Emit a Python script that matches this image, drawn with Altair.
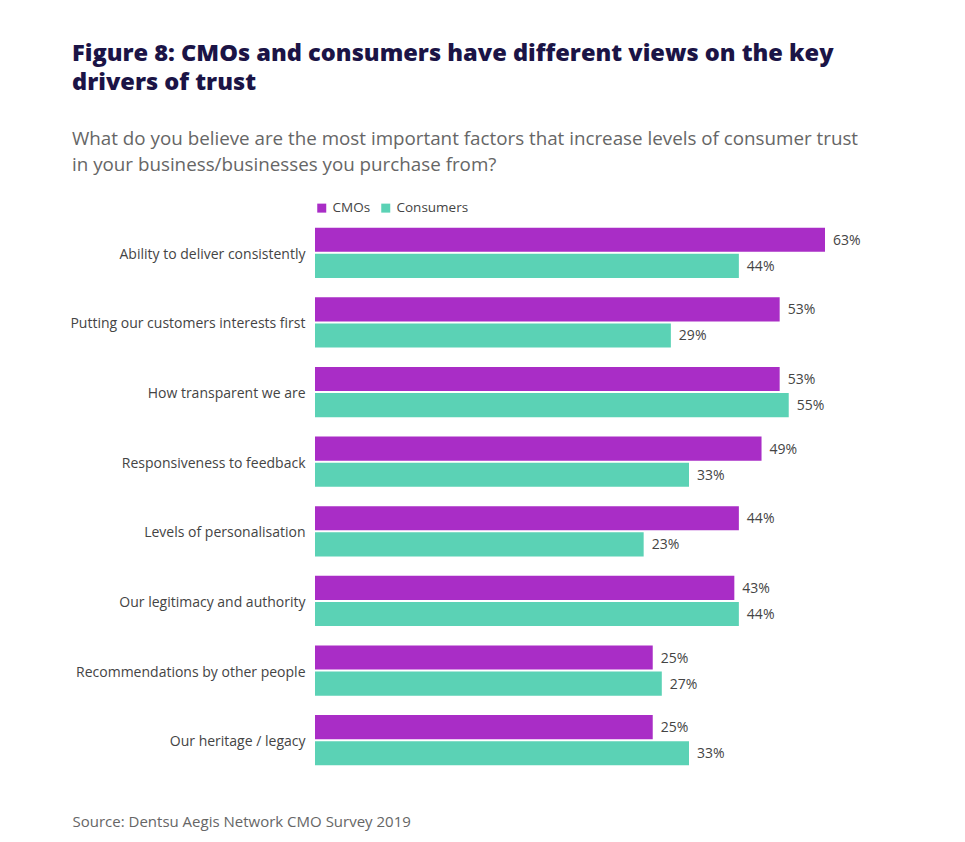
import altair as alt
import pandas as pd

categories = [
    "Ability to deliver consistently",
    "Putting our customers interests first",
    "How transparent we are",
    "Responsiveness to feedback",
    "Levels of personalisation",
    "Our legitimacy and authority",
    "Recommendations by other people",
    "Our heritage / legacy",
]
series = ["CMOs", "Consumers"]
cmos = [63, 53, 53, 49, 44, 43, 25, 25]
consumers = [44, 29, 55, 33, 23, 44, 27, 33]
colors = ["#A92DC6", "#5BD2B5"]

rows = []
for c, a, b in zip(categories, cmos, consumers):
    rows.append({"factor": c, "group": "CMOs", "value": a})
    rows.append({"factor": c, "group": "Consumers", "value": b})
df = pd.DataFrame(rows)
df["label"] = df["value"].astype(str) + "%"

BASE = -49.5
FONT = "Open Sans"

y_enc = alt.Y("factor:N", sort=categories, title=None,
              scale=alt.Scale(paddingInner=0.28, paddingOuter=0.14),
              axis=alt.Axis(domain=False, ticks=False, labelPadding=10, labelOffset=2,
                            labelFontSize=14, labelColor="#444444", labelFont=FONT,
                            labelLimit=300))
yoff = alt.YOffset("group:N", sort=series, scale=alt.Scale(paddingInner=0.08))
x_enc = alt.X("value:Q", scale=alt.Scale(domain=[BASE, 70.5], nice=False, zero=False),
              axis=alt.Axis(title="Source: Dentsu Aegis Network CMO Survey 2019",
                            labels=False, ticks=False, domain=False, grid=False,
                            titleX=-243, titleY=46, titleAlign="left", titleAnchor="start",
                            titleBaseline="middle", titleFontSize=15, titleFontWeight="normal",
                            titleColor="#666666", titleFont=FONT))

bars = alt.Chart(df).mark_bar().encode(
    y=y_enc,
    yOffset=yoff,
    x=x_enc,
    x2=alt.datum(BASE),
    color=alt.Color("group:N", sort=series,
                    scale=alt.Scale(domain=series, range=colors),
                    legend=alt.Legend(title=None, orient="none", legendX=0, legendY=-17,
                                      direction="horizontal", symbolType="square",
                                      symbolSize=81, symbolStrokeWidth=0,
                                      labelFontSize=13.5, labelColor="#444444",
                                      labelFont=FONT, columnPadding=8, symbolOffset=0,
                                      labelOffset=4)),
)

text = alt.Chart(df).mark_text(align="left", baseline="middle", dx=8, dy=1, fontSize=14,
                               color="#444444", font=FONT).encode(
    y=alt.Y("factor:N", sort=categories),
    yOffset=yoff,
    x=alt.X("value:Q"),
    text="label:N",
)

chart = (bars + text).properties(
    width=544,
    height=557,
    padding={"left": 307, "top": 210, "right": 80, "bottom": 64},
    autosize=alt.AutoSizeParams(type="none"),
    title=alt.Title(
        text=["Figure 8: CMOs and consumers have different views on the key",
              "drivers of trust"],
        subtitle=["What do you believe are the most important factors that increase levels of consumer trust",
                  "in your business/businesses you purchase from?"],
        anchor="start", frame="group", dx=-243, offset=26,
        font=FONT, fontSize=23.6, fontWeight=800, color="#1B1446", lineHeight=29,
        subtitleFont=FONT, subtitleFontSize=18.8, subtitleColor="#666666",
        subtitleLineHeight=26, subtitlePadding=36,
    ),
).configure_view(stroke=None)

chart.save("out.html", embed_options={"renderer": "svg", "actions": False})
